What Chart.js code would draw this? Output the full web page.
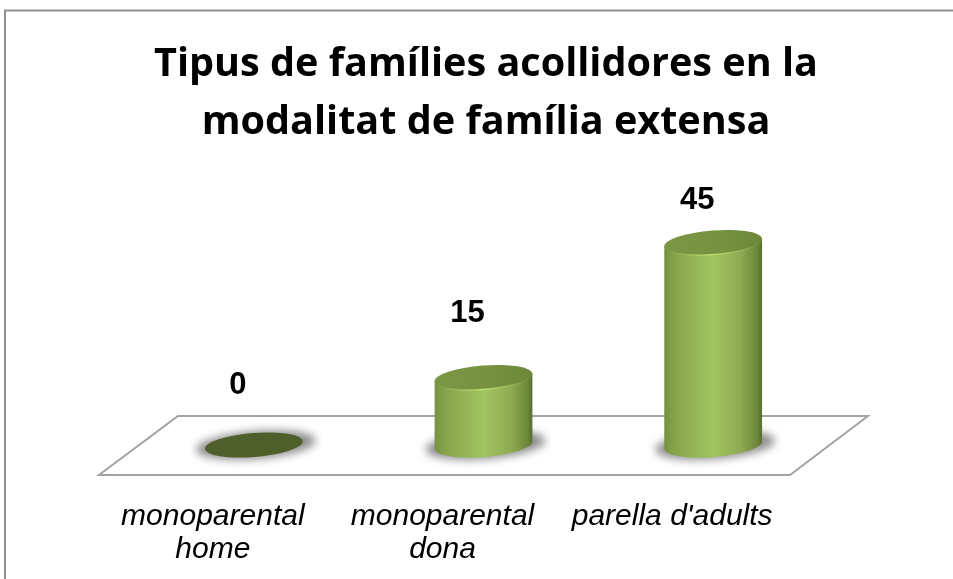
<!DOCTYPE html>
<html>
<head>
<meta charset="utf-8">
<style>
    html, body { margin: 0; padding: 0; background: #fff; overflow: hidden; }
    canvas { display: block; }
</style>
<script src="https://cdn.jsdelivr.net/npm/chart.js@4/dist/chart.umd.min.js"></script>
</head>
<body>
<canvas id="chart" width="953" height="579"></canvas>
<script>
const titleLines = ["Tipus de famílies acollidores en la", "modalitat de família extensa"];
const categories = [["monoparental", "home"], ["monoparental", "dona"], "parella d'adults"];
const values = [0, 15, 45];

// how far each number floats above the top of its cylinder, px
const labelLift = [60, 64, 42];

const TILT = -4.5 * Math.PI / 180;

function ellipsePath(ctx, cx, cy, rx, ry) {
    ctx.beginPath();
    ctx.ellipse(cx, cy, rx, ry, TILT, 0, Math.PI * 2);
}

// ------------------------
// Frame and floor, behind the bars
// ------------------------
const floorPlugin = {
    id: "floor",
    afterLayout(chart) {
        // the title sits a little right of the plot centre
        chart.titleBlock.left += 2.5;
        chart.titleBlock.right += 2.5;
    },
    beforeDatasetsDraw(chart) {
        const ctx = chart.ctx;
        const y0 = chart.scales.y.getPixelForValue(0);
        const area = chart.chartArea;

        ctx.save();
        ctx.strokeStyle = "#8f8f8f";
        ctx.lineWidth = 2;
        ctx.beginPath();
        ctx.moveTo(5, 579);
        ctx.lineTo(5, 10.5);
        ctx.lineTo(953, 10.5);
        ctx.stroke();

        ctx.strokeStyle = "#a3a3a3";
        ctx.lineWidth = 2;
        ctx.beginPath();
        ctx.moveTo(area.left + 39, y0 - 29);
        ctx.lineTo(area.right + 40, y0 - 29);
        ctx.lineTo(area.right - 38, y0 + 30);
        ctx.lineTo(area.left - 40, y0 + 30);
        ctx.closePath();
        ctx.stroke();
        ctx.restore();
    }
};

// ------------------------
// Cylinders and value labels, on top of the bar elements
// ------------------------
const cylinderPlugin = {
    id: "cylinders",
    afterDatasetsDraw(chart) {
        const ctx = chart.ctx;
        const bars = chart.getDatasetMeta(0).data;

        bars.forEach(function (bar, i) {
            const rx = bar.width / 2;
            const ry = 12;
            const dx = Math.cos(TILT) * rx;
            const dy = Math.sin(TILT) * rx;
            const cx = bar.x;

            // soft shadow under the base
            ctx.save();
            ctx.filter = "blur(4px)";
            ctx.fillStyle = "#8f8f8f";
            ellipsePath(ctx, cx + 2, bar.base, rx + 11, ry + 2);
            ctx.fill();
            ctx.restore();

            if (values[i] === 0) {
                ctx.fillStyle = "#4f5f2b";
                ellipsePath(ctx, cx, bar.base, rx, ry);
                ctx.fill();
            } else {
                const side = ctx.createLinearGradient(cx - rx, 0, cx + rx, 0);
                side.addColorStop(0, "#75913f");
                side.addColorStop(0.1, "#86a34b");
                side.addColorStop(0.5, "#a1c560");
                side.addColorStop(0.78, "#8eaa52");
                side.addColorStop(0.95, "#6c8739");
                side.addColorStop(1, "#566d2e");

                ctx.fillStyle = side;
                ctx.beginPath();
                ctx.moveTo(cx - dx, bar.y - dy);
                ctx.lineTo(cx - dx, bar.base - dy);
                ctx.ellipse(cx, bar.base, rx, ry, TILT, Math.PI, 0, true);
                ctx.lineTo(cx + dx, bar.y + dy);
                ctx.closePath();
                ctx.fill();

                // lid
                const lid = ctx.createLinearGradient(cx - rx, 0, cx + rx, 0);
                lid.addColorStop(0, "#7b9744");
                lid.addColorStop(0.6, "#76913f");
                lid.addColorStop(1, "#6c8739");
                ctx.fillStyle = lid;
                ellipsePath(ctx, cx, bar.y, rx, ry);
                ctx.fill();

                // highlight along the front rim of the lid
                const rim = ctx.createLinearGradient(cx - rx, 0, cx + rx, 0);
                rim.addColorStop(0, "rgba(170,205,100,0)");
                rim.addColorStop(0.5, "rgba(185,222,115,1)");
                rim.addColorStop(1, "rgba(170,205,100,0)");
                ctx.strokeStyle = rim;
                ctx.lineWidth = 1.5;
                ctx.beginPath();
                ctx.ellipse(cx, bar.y, rx, ry, TILT, 0.1, Math.PI - 0.1);
                ctx.stroke();
            }

            ctx.fillStyle = "#000";
            ctx.font = "bold 31px 'Liberation Sans'";
            ctx.textAlign = "center";
            ctx.textBaseline = "middle";
            ctx.fillText(String(values[i]), cx - 16, bar.y - labelLift[i]);
        });
    }
};

new Chart(document.getElementById("chart").getContext("2d"), {
    type: "bar",
    data: {
        labels: categories,
        datasets: [{
            data: values,
            backgroundColor: "rgba(0,0,0,0)",
            barPercentage: 0.427,
            categoryPercentage: 1
        }]
    },
    options: {
        responsive: false,
        animation: false,
        layout: { padding: { left: 139, right: 125, top: 0, bottom: 14 } },
        plugins: {
            legend: { display: false },
            tooltip: { enabled: false },
            title: {
                display: true,
                text: titleLines,
                color: "#000",
                font: { family: "'Open Sans'", size: 39.6, weight: "bold", lineHeight: 1.465 },
                padding: { top: 36, bottom: 68 }
            }
        },
        scales: {
            x: {
                afterFit(scale) { scale.height = 120; },
                grid: { display: false, drawTicks: false },
                border: { display: false },
                ticks: {
                    color: "#000",
                    font: { family: "'Liberation Sans'", size: 30, style: "italic", lineHeight: 1.1 },
                    padding: 55,
                    labelOffset: -41,
                    autoSkip: false,
                    maxRotation: 0
                }
            },
            y: { display: false, min: 0, max: 50 }
        }
    },
    plugins: [floorPlugin, cylinderPlugin]
});
</script>
</body>
</html>
